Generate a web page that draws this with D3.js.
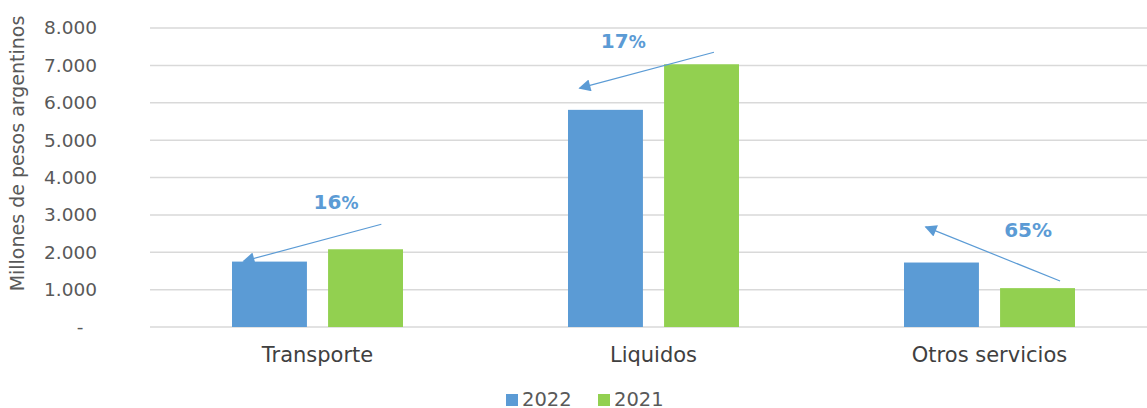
<!DOCTYPE html>
<html>
<head>
<meta charset="utf-8">
<script src="https://cdn.jsdelivr.net/npm/d3@7"></script>
<style>
  body { margin: 0; background: #fff; }
  svg { display: block; font-family: 'DejaVu Sans', Verdana, sans-serif; }
</style>
</head>
<body>
<svg id="chart"></svg>
<script>
const categories = ['Transporte', 'Liquidos', 'Otros servicios'];
const series = ['2022', '2021'];
const values2022 = [1750, 5810, 1725];
const values2021 = [2080, 7030, 1040];
const changeLabels = ['16', '17', '65'];
const yTicks = [0, 1000, 2000, 3000, 4000, 5000, 6000, 7000, 8000];
const colors = { '2022': '#5B9BD5', '2021': '#92D050' };

// where each % arrow sits, in band fraction / data units
const arrows = [
  { from: [0.69, 2750], to: [0.28, 1760], label: [0.555, 3160] },
  { from: [0.68, 7350], to: [0.28, 6390], label: [0.41, 7460] },
  { from: [0.71, 1230], to: [0.31, 2680], label: [0.615, 2400] },
];

const W = 1147, H = 408;
const svg = d3.select('#chart').attr('width', W).attr('height', H);
const margin = { top: 28, left: 150, bottom: 81 };
const plotBottom = H - margin.bottom;

const x0 = d3.scaleBand().domain(categories).range([149.5, 1157.5]);
const x1 = d3.scaleBand().domain(series).range([82.5, 253.5]).paddingInner(0.22);
const y = d3.scaleLinear().domain([0, 8000]).range([plotBottom, 28]);

// title (cut off at top in the original)
svg.append('text')
  .attr('x', 640).attr('y', -4)
  .attr('text-anchor', 'middle')
  .attr('font-size', 21).attr('font-weight', 'bold')
  .attr('fill', '#2E75B6')
  .text('Comparación por categoría de servicios según año');

// grid
svg.append('g')
  .selectAll('line')
  .data(yTicks)
  .enter().append('line')
  .attr('x1', margin.left).attr('x2', W)
  .attr('y1', d => y(d)).attr('y2', d => y(d))
  .attr('stroke', '#d9d9d9').attr('stroke-width', 1.5);

// y axis labels
const fmt = d => d === 0 ? '-' : d3.format(',')(d).replace(/,/g, '.');
const yAxis = svg.append('g')
  .attr('transform', 'translate(97,0)')
  .call(d3.axisLeft(y).tickValues(yTicks).tickFormat(fmt).tickSize(0).tickPadding(0));
yAxis.select('.domain').remove();
yAxis.selectAll('text')
  .attr('font-size', 18.5).attr('fill', '#595959')
  .attr('font-family', "'DejaVu Sans', Verdana, sans-serif")
  .attr('text-anchor', d => d === 0 ? 'middle' : 'end')
  .attr('x', d => d === 0 ? -17 : 0);

svg.append('text')
  .attr('transform', `translate(24,${(15 + 292) / 2}) rotate(-90)`)
  .attr('text-anchor', 'middle')
  .attr('font-size', 19).attr('fill', '#595959')
  .text('Millones de pesos argentinos');

// bars
const rows = categories.map((c, i) => ({ cat: c, vals: [
  { s: '2022', v: values2022[i] },
  { s: '2021', v: values2021[i] },
] }));

svg.append('g')
  .selectAll('g')
  .data(rows)
  .enter().append('g')
  .attr('transform', d => `translate(${x0(d.cat)},0)`)
  .selectAll('rect')
  .data(d => d.vals)
  .enter().append('rect')
  .attr('x', d => x1(d.s))
  .attr('y', d => y(d.v))
  .attr('width', x1.bandwidth())
  .attr('height', d => y(0) - y(d.v))
  .attr('fill', d => colors[d.s]);

// category axis
const xAxis = svg.append('g')
  .attr('transform', `translate(0,${plotBottom})`)
  .call(d3.axisBottom(x0).tickSize(0).tickPadding(20));
xAxis.select('.domain').remove();
xAxis.selectAll('text')
  .attr('font-size', 21).attr('fill', '#404040')
  .attr('font-family', "'DejaVu Sans', Verdana, sans-serif");

// arrows
const defs = svg.append('defs');
defs.append('marker')
  .attr('id', 'head').attr('viewBox', '0 0 10 10')
  .attr('refX', 9).attr('refY', 5)
  .attr('markerWidth', 15).attr('markerHeight', 12)
  .attr('markerUnits', 'userSpaceOnUse')
  .attr('orient', 'auto')
  .append('path').attr('d', 'M0,0 L10,5 L0,10 Z').attr('fill', '#5B9BD5');

const ax = (c, f) => x0(c) + f * x0.bandwidth();
const ann = svg.append('g');
arrows.forEach((a, i) => {
  const c = categories[i];
  ann.append('line')
    .attr('x1', ax(c, a.from[0])).attr('y1', y(a.from[1]))
    .attr('x2', ax(c, a.to[0])).attr('y2', y(a.to[1]))
    .attr('stroke', '#5B9BD5').attr('stroke-width', 1.2)
    .attr('marker-end', 'url(#head)');
  const t = ann.append('text')
    .attr('x', ax(c, a.label[0])).attr('y', y(a.label[1]))
    .attr('text-anchor', 'middle')
    .attr('font-size', 20).attr('font-weight', 'bold')
    .attr('fill', '#5B9BD5');
  t.append('tspan').text(changeLabels[i]);
  t.append('tspan').attr('font-size', i === 2 ? 20 : 17).text('%');
});

// legend
const leg = svg.append('g').selectAll('g')
  .data(series)
  .enter().append('g')
  .attr('transform', (d, i) => `translate(${506 + i * 92},0)`);
leg.append('rect')
  .attr('x', 0).attr('y', 394).attr('width', 12).attr('height', 12)
  .attr('fill', d => colors[d]);
leg.append('text')
  .attr('x', 16).attr('y', 406)
  .attr('font-size', 19.5).attr('fill', '#595959')
  .text(d => d);
</script>
</body>
</html>
